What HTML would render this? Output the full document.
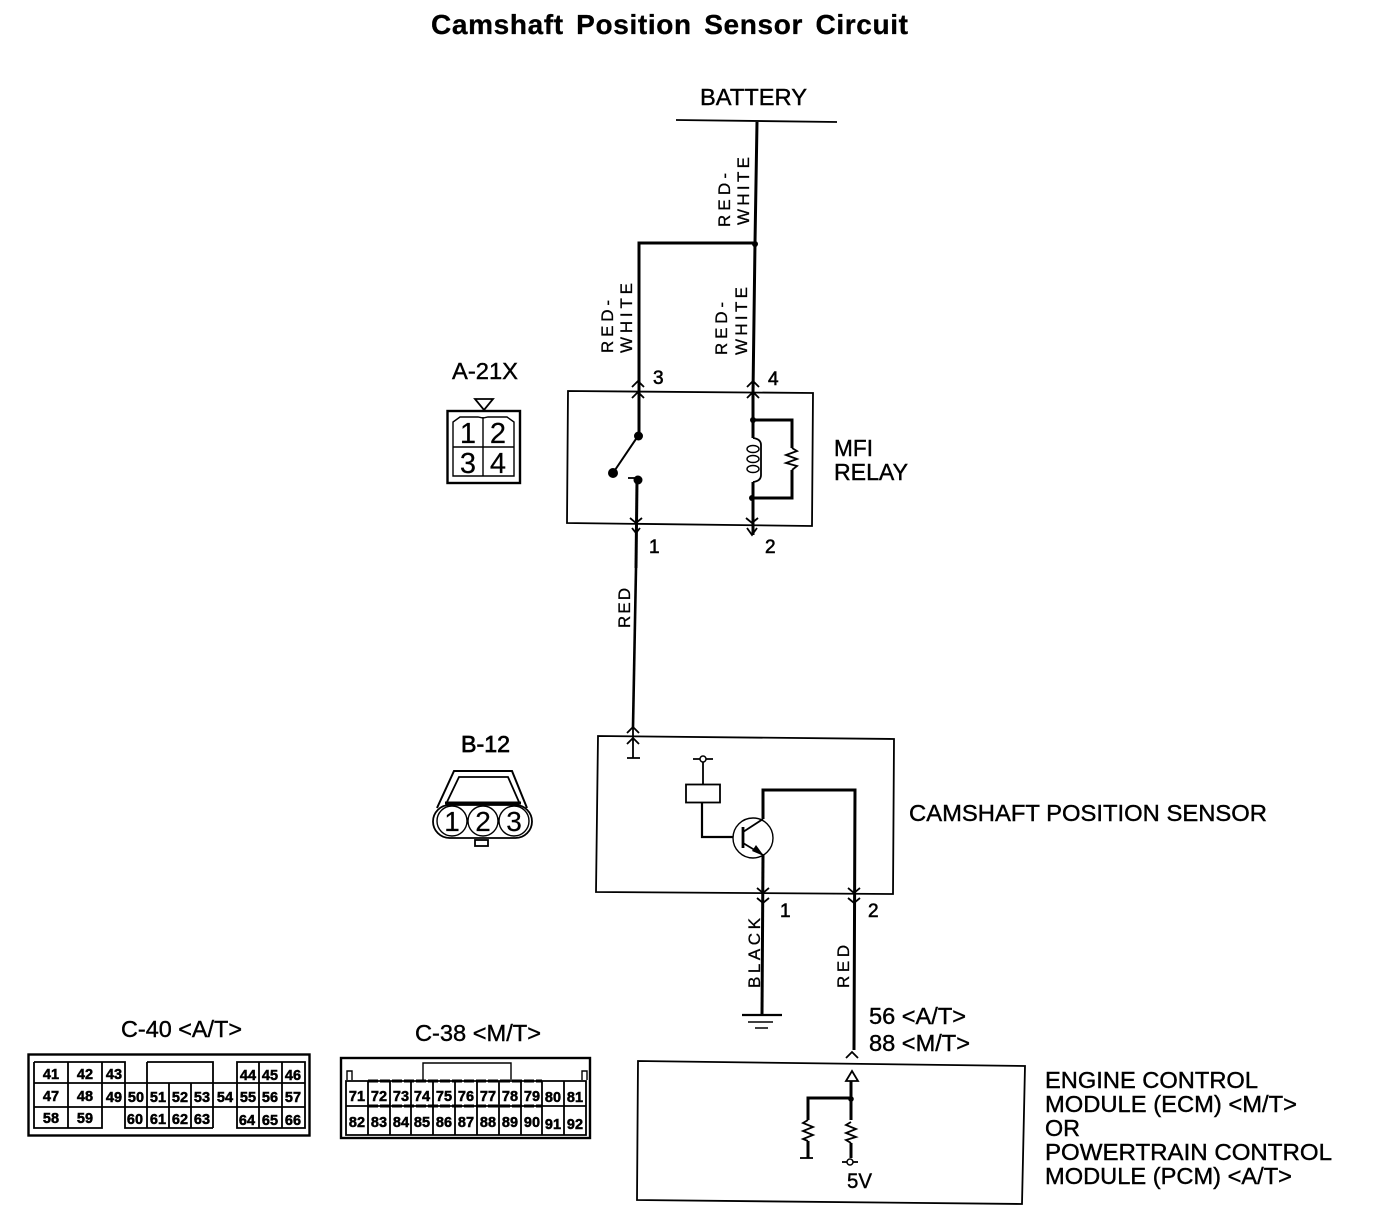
<!DOCTYPE html>
<html><head><meta charset="utf-8"><title>Camshaft Position Sensor Circuit</title>
<style>
html,body{margin:0;padding:0;background:#fff}
svg{display:block}
text{font-family:"Liberation Sans",sans-serif;fill:#000;stroke:#000;stroke-width:.4;font-size:23px}
.w{font-size:17px;stroke-width:.3}
.d{font-size:19px;stroke-width:.6}
.c{font-size:14.500px;font-weight:bold;text-anchor:middle;stroke-width:.5}
.n{font-size:29px;text-anchor:middle;stroke-width:.2}
.m{font-size:28px;text-anchor:middle;stroke-width:.2}
.t1{stroke:#000;stroke-width:1.800;fill:none}
.t2{stroke:#000;stroke-width:3;fill:none}
.t3{stroke:#000;stroke-width:1.400;fill:none}
</style></head><body>
<svg xmlns="http://www.w3.org/2000/svg" width="1376" height="1228" viewBox="0 0 1376 1228">
<rect width="1376" height="1228" fill="#fff"/>
<text x="431" y="34" style="font-size:28px;font-weight:bold;stroke-width:.3" textLength="477" lengthAdjust="spacing" word-spacing="4">Camshaft Position Sensor Circuit</text>
<text x="700" y="105" textLength="107" lengthAdjust="spacingAndGlyphs">BATTERY</text>
<path class="t1" d="M676 120L837 122"/>

<!-- Top wiring -->
<path class="t2" d="M757 122L755 243L753 393V438"/>
<path class="t2" d="M755 243H639V436"/>
<circle cx="755" cy="244" r="3"/>

<g transform="translate(730,227) rotate(-90)"><text class="w" textLength="54" lengthAdjust="spacing">RED-</text></g>
<g transform="translate(749,225) rotate(-90)"><text class="w" textLength="68" lengthAdjust="spacing">WHITE</text></g>
<g transform="translate(613,353) rotate(-90)"><text class="w" textLength="53" lengthAdjust="spacing">RED-</text></g>
<g transform="translate(632,353) rotate(-90)"><text class="w" textLength="70" lengthAdjust="spacing">WHITE</text></g>
<g transform="translate(727,355) rotate(-90)"><text class="w" textLength="53" lengthAdjust="spacing">RED-</text></g>
<g transform="translate(747,355) rotate(-90)"><text class="w" textLength="68" lengthAdjust="spacing">WHITE</text></g>

<!-- MFI relay -->
<path class="t1" d="M568 391L813 393L812 526L567 523Z"/>
<path class="t1" d="M632 387L638 381L644 387M632 398L638 392L644 398M747 387L753 381L759 387M747 398L753 392L759 398"/>
<path class="t1" d="M630 518L636 523L642 518M632 528L636 533L640 528M746 518L752 523L758 518M747 528L752 535L757 528"/>
<circle cx="638.500" cy="436" r="4.500"/>
<circle cx="613" cy="473" r="5"/>
<circle cx="638" cy="480" r="4.500"/>
<path class="t2" d="M638 436L613 473" style="stroke-width:2"/>
<path class="t1" d="M628 478H638"/>
<path class="t2" d="M637 480L636 568"/>
<path class="t2" d="M753 420H792V498H752"/>
<circle cx="753" cy="420" r="3"/><circle cx="752" cy="498" r="3"/>
<path class="t2" d="M753 482V535"/>
<ellipse class="t3" cx="753" cy="449" rx="6" ry="3.500"/>
<ellipse class="t3" cx="753" cy="459" rx="6" ry="3.500"/>
<ellipse class="t3" cx="753" cy="469" rx="6" ry="3.500"/>
<rect x="760" y="440" width="4" height="36" fill="#fff"/>
<path class="t1" d="M753 438Q761 439 761 445V475Q761 481 753 482"/>
<rect x="786" y="448" width="12" height="22" fill="#fff"/>
<path class="t1" d="M792 448L797 451L786 455L797 459L786 463L797 466L792 470"/>

<text x="653" y="384" class="d" textLength="12">3</text>
<text x="768" y="385" class="d" textLength="12">4</text>
<text x="649" y="553" class="d" textLength="11">1</text>
<text x="765" y="553" class="d" textLength="12">2</text>
<text x="834" y="456" textLength="39" lengthAdjust="spacingAndGlyphs">MFI</text>
<text x="834" y="480" textLength="74" lengthAdjust="spacingAndGlyphs">RELAY</text>

<!-- A-21X -->
<text x="452" y="379" textLength="66" lengthAdjust="spacingAndGlyphs">A-21X</text>
<path class="t1" d="M475 399H493L484 410Z"/>
<rect x="447.500" y="411" width="72.500" height="72" fill="none" stroke="#000" stroke-width="2.400"/>
<path class="t3" d="M453 476V422L460 417H478L483 418L488 417H507L514 422V476Z"/>
<path class="t3" d="M483 417V476M453 447H514"/>
<text class="n" x="468" y="443">1</text><text class="n" x="498" y="443">2</text>
<text class="n" x="468" y="473">3</text><text class="n" x="498" y="473">4</text>

<!-- Red wire -->
<g transform="translate(630,628) rotate(-90)"><text class="w" textLength="40" lengthAdjust="spacing">RED</text></g>
<path class="t2" d="M636 568L633 727" style="stroke-width:2.600"/>

<!-- B-12 -->
<text x="461" y="752" textLength="49" lengthAdjust="spacingAndGlyphs" style="stroke-width:.7">B-12</text>
<path class="t2" d="M437 808L454 771H512L527 808" style="stroke-width:2"/>
<path class="t1" d="M447 802L459 777H508L519 802"/>
<path class="t2" d="M445 803H521"/>
<rect x="433" y="805" width="99" height="33" rx="16.500" fill="#fff" stroke="#000" stroke-width="1.800"/>
<circle class="t3" cx="452" cy="821" r="15"/><circle class="t3" cx="483" cy="821" r="15"/><circle class="t3" cx="514" cy="821" r="15"/>
<rect x="475" y="840" width="13" height="6" fill="none" stroke="#000" stroke-width="1.800"/>
<text class="m" x="452" y="831">1</text><text class="m" x="483" y="831">2</text><text class="m" x="514" y="831">3</text>

<!-- Sensor -->
<path class="t1" d="M598 736L894 739L893 894L596 892Z"/>
<path class="t1" d="M633 727V758M627 758H640M627 733L633 727L639 733M627 744L633 738L639 744"/>
<path class="t1" d="M693 759H713"/><circle cx="703" cy="759" r="3" fill="#fff" stroke="#000" stroke-width="1.500"/>
<path class="t1" d="M703 762V784"/>
<rect x="686" y="784.500" width="34" height="18" fill="none" stroke="#000" stroke-width="1.800"/>
<path class="t2" d="M702 803V837H733" style="stroke-width:2.200"/>
<circle class="t3" cx="753" cy="838" r="20"/>
<path class="t2" d="M743 827V848" style="stroke-width:2.800"/>
<path class="t1" d="M743 832L763 819"/>
<path class="t2" d="M763 819V790H855L854 1050"/>
<path class="t1" d="M743 843L763 855"/>
<path d="M764 856L752 851L756 845Z"/>
<path class="t2" d="M763 855L762 1015"/>
<path class="t1" d="M757 888L763 893L769 888M757 898L763 903L769 898M848 888L854 893L860 888M848 898L854 903L860 898"/>
<text x="909" y="821" textLength="358" lengthAdjust="spacingAndGlyphs">CAMSHAFT POSITION SENSOR</text>
<text x="780" y="917" class="d" textLength="9">1</text>
<text x="868" y="917" class="d" textLength="11">2</text>
<g transform="translate(760,988) rotate(-90)"><text class="w" textLength="70" lengthAdjust="spacing">BLACK</text></g>
<g transform="translate(849,988) rotate(-90)"><text class="w" textLength="43" lengthAdjust="spacing">RED</text></g>

<!-- Ground -->
<path class="t2" d="M742 1015H782" style="stroke-width:2.200"/>
<path class="t3" d="M748 1022H773M755 1028H768"/>

<text x="869" y="1024" textLength="97" lengthAdjust="spacingAndGlyphs">56 &lt;A/T&gt;</text>
<text x="869" y="1051" textLength="101" lengthAdjust="spacingAndGlyphs">88 &lt;M/T&gt;</text>
<path class="t1" d="M846 1058L852 1052L858 1058"/>

<!-- ECM -->
<path class="t1" d="M638 1061L1025 1066L1022 1204L637 1200Z"/>
<path class="t1" d="M852 1071L858 1081H846Z"/>
<path class="t2" d="M851 1081V1120M851 1098H808V1120" />
<circle cx="851" cy="1099" r="2.800"/>
<path class="t1" d="M808 1120L803 1123L813 1127L803 1131L813 1135L803 1139L808 1141"/>
<path class="t2" d="M808 1141V1158"/><path class="t1" d="M800 1158H813"/>
<path class="t1" d="M851 1122L846 1125L856 1129L846 1133L856 1137L846 1140L851 1143"/>
<path class="t2" d="M851 1143V1158"/>
<path class="t1" d="M842 1162H858"/><circle cx="850" cy="1162" r="3" fill="#fff" stroke="#000" stroke-width="1.500"/>
<text x="847" y="1188" textLength="25" lengthAdjust="spacingAndGlyphs" style="font-size:21px">5V</text>
<text x="1045" y="1088" textLength="213" lengthAdjust="spacingAndGlyphs">ENGINE CONTROL</text>
<text x="1045" y="1112" textLength="252" lengthAdjust="spacingAndGlyphs">MODULE (ECM) &lt;M/T&gt;</text>
<text x="1045" y="1136" textLength="35" lengthAdjust="spacingAndGlyphs">OR</text>
<text x="1045" y="1160" textLength="287" lengthAdjust="spacingAndGlyphs">POWERTRAIN CONTROL</text>
<text x="1045" y="1184" textLength="247" lengthAdjust="spacingAndGlyphs">MODULE (PCM) &lt;A/T&gt;</text>

<!-- C-40 -->
<text x="121" y="1037" textLength="121" lengthAdjust="spacingAndGlyphs">C-40 &lt;A/T&gt;</text>
<rect x="28.500" y="1054.500" width="281" height="81" fill="none" stroke="#000" stroke-width="2.400"/>
<path class="t1" d="M34 1062H125V1083H305V1062H237V1128H305V1083M34 1062V1128H102V1062M68 1062V1128M34 1083H125M34 1107H305M147 1062H213V1128M147 1062V1128M125 1083V1128H213M169 1083V1128M191 1083V1128M259 1062V1128M282 1062V1128"/>
<text class="c" x="51" y="1079">41</text><text class="c" x="85" y="1079">42</text><text class="c" x="114" y="1079">43</text>
<text class="c" x="248" y="1080">44</text><text class="c" x="270" y="1080">45</text><text class="c" x="293" y="1080">46</text>
<text class="c" x="51" y="1101">47</text><text class="c" x="85" y="1101">48</text><text class="c" x="114" y="1102">49</text>
<text class="c" x="136" y="1102">50</text><text class="c" x="158" y="1102">51</text><text class="c" x="180" y="1102">52</text><text class="c" x="202" y="1102">53</text><text class="c" x="225" y="1102">54</text>
<text class="c" x="248" y="1102">55</text><text class="c" x="270" y="1102">56</text><text class="c" x="293" y="1102">57</text>
<text class="c" x="51" y="1123">58</text><text class="c" x="85" y="1123">59</text>
<text class="c" x="135" y="1124">60</text><text class="c" x="158" y="1124">61</text><text class="c" x="180" y="1124">62</text><text class="c" x="202" y="1124">63</text>
<text class="c" x="247" y="1125">64</text><text class="c" x="270" y="1125">65</text><text class="c" x="293" y="1125">66</text>

<!-- C-38 -->
<text x="415" y="1041" textLength="126" lengthAdjust="spacingAndGlyphs">C-38 &lt;M/T&gt;</text>
<rect x="341" y="1058" width="249" height="80" fill="none" stroke="#000" stroke-width="2.400"/>
<path class="t3" d="M423 1080V1063H511V1080M347 1080V1071H352V1080M582 1080V1071H587V1080"/>
<path class="t1" d="M346 1081H586V1135H346ZM346 1106H586M368 1081V1135M390 1081V1135M411 1081V1135M433 1081V1135M455 1081V1135M477 1081V1135M499 1081V1135M521 1081V1135M542 1081V1135M564 1081V1135"/>
<path class="t2" d="M368 1081H542M368 1106H542" style="stroke-dasharray:10 2"/>
<text class="c" x="357" y="1101">71</text><text class="c" x="379" y="1101">72</text><text class="c" x="401" y="1101">73</text><text class="c" x="422" y="1101">74</text><text class="c" x="444" y="1101">75</text><text class="c" x="466" y="1101">76</text><text class="c" x="488" y="1101">77</text><text class="c" x="510" y="1101">78</text><text class="c" x="532" y="1101">79</text><text class="c" x="553" y="1102">80</text><text class="c" x="575" y="1102">81</text>
<text class="c" x="357" y="1127">82</text><text class="c" x="379" y="1127">83</text><text class="c" x="401" y="1127">84</text><text class="c" x="422" y="1127">85</text><text class="c" x="444" y="1127">86</text><text class="c" x="466" y="1127">87</text><text class="c" x="488" y="1127">88</text><text class="c" x="510" y="1127">89</text><text class="c" x="532" y="1127">90</text><text class="c" x="553" y="1129">91</text><text class="c" x="575" y="1129">92</text>
</svg>
</body></html>
